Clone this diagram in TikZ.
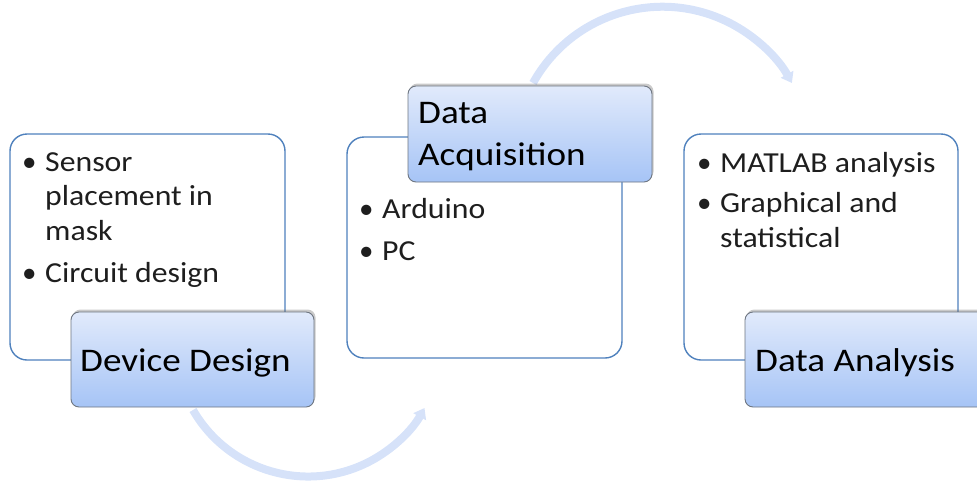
\documentclass[tikz,border=0pt]{standalone}
\usepackage{fontspec}
\usepackage{graphicx}
\setmainfont{Carlito}
\usetikzlibrary{arrows.meta,shadows}
\definecolor{boxblue}{HTML}{4F81BD}
\definecolor{tbtop}{HTML}{E1EAFB}
\definecolor{tbbot}{HTML}{A6C4F6}
\definecolor{tbedge}{HTML}{6E7681}
\definecolor{arrowc}{HTML}{D6E2F9}
\definecolor{txt}{HTML}{1E1E1E}
\newcommand{\bxs}[1]{\scalebox{1.095}[1]{#1}}
\newcommand{\txs}[1]{\scalebox{1.125}[1]{#1}}
\tikzset{
  panel/.style={draw=boxblue, line width=1.4pt, fill=white, rounded corners=17pt},
  titlebox/.style={draw=tbedge, line width=0.9pt, rounded corners=8pt, top color=tbtop, bottom color=tbbot,
    drop shadow={shadow xshift=1.5pt, shadow yshift=2.5pt, opacity=0.35, fill=black!60}},
  flowarrow/.style={draw=arrowc, line width=8pt, -{Triangle[length=10pt,width=14pt]}},
  itemtext/.style={anchor=base west, inner sep=0pt, text=txt, font=\fontsize{29}{35}\selectfont},
  titletext/.style={anchor=base west, inner sep=0pt, text=black, font=\fontsize{33}{40}\selectfont},
}
\begin{document}
\begin{tikzpicture}[x=1pt,y=-1pt]
\useasboundingbox (0,0) rectangle (977,483);
\clip (0,0) rectangle (977,483);
% arrows (behind boxes)
\draw[flowarrow] (193,410) coordinate (a1s) arc[start angle=150, end angle=29, radius=133] coordinate (a1e);
\draw[flowarrow] (533,83) coordinate (a2s) arc[start angle=-151, end angle=-29, radius=148] coordinate (a2e);
% panels
\draw[panel] (10,134) rectangle (285,360);
\draw[panel] (347,137) rectangle (622,358);
\draw[panel] (684,134) rectangle (958,360);
% title boxes
\path[titlebox] (71,312) rectangle (314,407);
\path[titlebox] (408,86) rectangle (652,182);
\path[titlebox] (745,312) rectangle (988,407);
% panel 1 text
\node[itemtext] (b1a) at (22,171) {\textbullet};
\node[itemtext] (t1a) at (45,171) {\bxs{Sensor}};
\node[itemtext] (t1b) at (45,205) {\bxs{placement in}};
\node[itemtext] (t1c) at (45,240) {\bxs{mask}};
\node[itemtext] (b1b) at (22,282) {\textbullet};
\node[itemtext] (t1d) at (45,282) {\bxs{Circuit design}};
% panel 2 text
\node[itemtext] (b2a) at (359,218) {\textbullet};
\node[itemtext] (t2a) at (382,218) {\bxs{Arduino}};
\node[itemtext] (b2b) at (359,260) {\textbullet};
\node[itemtext] (t2b) at (382,260) {\bxs{PC}};
% panel 3 text
\node[itemtext] (b3a) at (697,172) {\textbullet};
\node[itemtext] (t3a) at (720,172) {\bxs{MATLAB analysis}};
\node[itemtext] (b3b) at (697,212) {\textbullet};
\node[itemtext] (t3b) at (720,212) {\bxs{Graphical and}};
\node[itemtext] (t3c) at (720,247) {\bxs{statistical}};
% titles
\node[titletext] (h1) at (80,371) {\txs{Device Design}};
\node[titletext] (h2a) at (418,123) {\txs{Data}};
\node[titletext] (h2b) at (418,165) {\txs{Acquisition}};
\node[titletext] (h3) at (755,371) {\txs{Data Analysis}};
\end{tikzpicture}
\end{document}
